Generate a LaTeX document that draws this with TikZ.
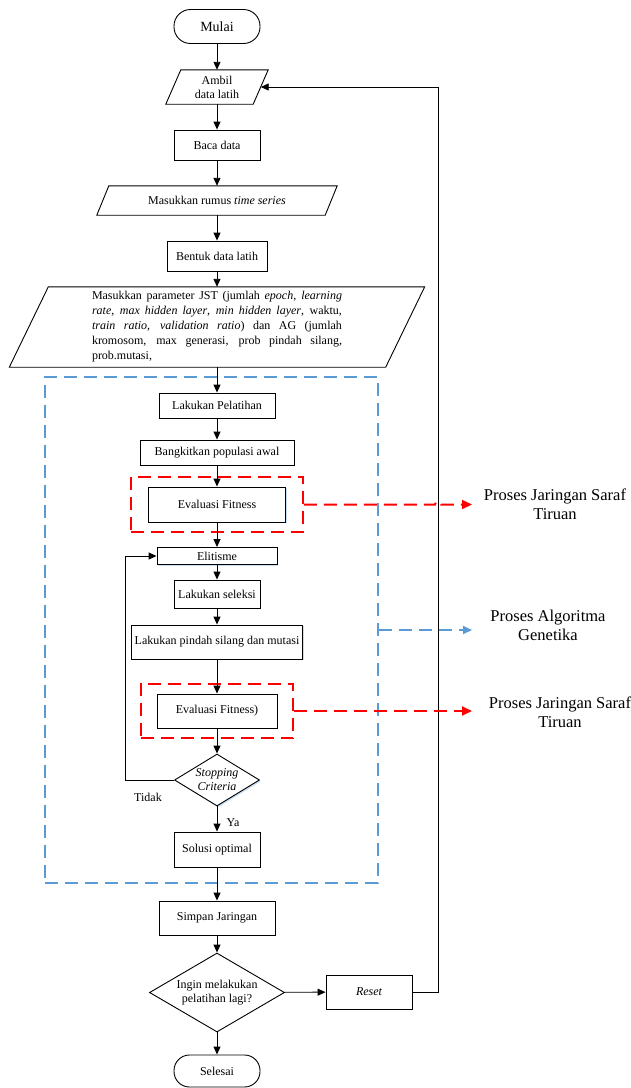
\documentclass[tikz,border=0pt]{standalone}
\usepackage{fontspec}
\setmainfont{Liberation Serif}
\usetikzlibrary{shapes.geometric,arrows.meta,fit,shadows}
\definecolor{agblue}{RGB}{91,155,213}
\definecolor{shadowblue}{RGB}{197,220,241}
\newcommand{\drawpara}[2]{\draw[line width=0.9pt] ([xshift=#2]#1.north east) -- ([xshift=#2]#1.north west) -- ([xshift=-#2]#1.south west) -- ([xshift=-#2]#1.south east) -- cycle;}
\begin{document}
\begin{tikzpicture}[x=1pt,y=-1pt,
  font=\fontsize{12}{14}\selectfont,
  box/.style={draw, fill=white, line width=0.9pt, inner sep=0pt, align=center},
  shad/.style={drop shadow={shadow xshift=1.2pt, shadow yshift=-1.4pt, fill=shadowblue, opacity=1}},
  term/.style={draw, line width=0.9pt, rounded corners=16.5pt, minimum width=86pt, minimum height=34pt, inner sep=0pt},
  para/.style={inner sep=0pt, align=center},
  decision/.style={diamond, draw, fill=white, line width=0.9pt, inner sep=0pt},
  arr/.style={line width=0.9pt, -{Triangle[length=8pt,width=7pt]}},
  reddash/.style={draw=red, line width=2pt, dash pattern=on 13pt off 7pt, -{Triangle[length=10pt,width=9pt]}},
  redbox/.style={draw=red, line width=2pt, dash pattern=on 13pt off 7pt, inner xsep=17pt, inner ysep=10pt},
  agbox/.style={draw=agblue, line width=2pt, dash pattern=on 13pt off 7pt, inner sep=0pt},
  bluedash/.style={draw=agblue, line width=2pt, dash pattern=on 13pt off 7pt, -{Triangle[length=9pt,width=8pt]}},
  lbl/.style={font=\fontsize{16.5}{19}\selectfont, align=center, inner sep=0pt}
]
\useasboundingbox (0,0) rectangle (630,1088);

% group box of the genetic algorithm
\node[agbox, minimum width=333pt, minimum height=506pt] (bb) at (211.5,630) {};

% main flow
\node[term, font=\fontsize{14}{16}\selectfont] (mulai) at (217,26.5) {Mulai};
\node[para, minimum width=87pt, minimum height=34pt] (ambil) at (217,87) {Ambil\\data latih};
\drawpara{ambil}{7.5pt}
\node[box, minimum width=86pt, minimum height=30pt] (baca) at (217,145) {Baca data};
\node[para, minimum width=228pt, minimum height=29pt] (rumus) at (217,200.5) {Masukkan rumus \textit{time series}};
\drawpara{rumus}{6pt}
\node[box, minimum width=100pt, minimum height=30pt] (bentuk) at (217,256) {Bentuk data latih};
\node[para, minimum width=376pt, minimum height=80pt] (param) at (217,327) {\parbox{250pt}{\fontsize{12}{15}\selectfont
Masukkan parameter JST (jumlah \textit{epoch}, \textit{learning}\linebreak
\textit{rate}, \textit{max hidden layer}, \textit{min hidden layer}, waktu,\linebreak
\textit{train ratio}, \textit{validation ratio}) dan AG (jumlah\linebreak
kromosom, max generasi, prob pindah silang,\linebreak
prob.mutasi,}};
\drawpara{param}{19.5pt}

\node[box, shad, minimum width=116pt, minimum height=25pt] (latih) at (217,405.5) {Lakukan Pelatihan};
\node[box, shad, minimum width=154pt, minimum height=25pt] (bangkit) at (217,452.5) {Bangkitkan populasi awal};
\node[box, shad, minimum width=137pt, minimum height=35pt] (eval1) at (217,504.5) {Evaluasi Fitness};
\node[box, shad, minimum width=120pt, minimum height=17pt] (elit) at (217,556) {Elitisme};
\node[box, shad, minimum width=86pt, minimum height=28pt] (seleksi) at (217,594) {Lakukan seleksi};
\node[box, shad, minimum width=171pt, minimum height=34pt] (silang) at (217,642) {Lakukan pindah silang dan mutasi};
\node[box, shad, minimum width=120pt, minimum height=34pt] (eval2) at (217,711) {Evaluasi Fitness)};
\node[decision, shad, minimum width=85pt, minimum height=52pt,
  label={[align=center, font=\fontsize{12}{14}\selectfont\itshape]center:Stopping\\Criteria}] (stop) at (217,780) {};
\node[box, shad, minimum width=86pt, minimum height=35pt] (solusi) at (217,849.5) {Solusi optimal};
\node[box, minimum width=116pt, minimum height=34pt] (simpan) at (217,918) {Simpan Jaringan};
\node[decision, minimum width=135pt, minimum height=79pt,
  label={[align=center, font=\fontsize{12}{14}\selectfont]center:Ingin melakukan\\pelatihan lagi?}] (ingin) at (217,992.5) {};
\node[box, minimum width=86pt, minimum height=34pt, font=\fontsize{12}{14}\selectfont\itshape] (reset) at (369,992) {Reset};
\node[term, minimum height=32pt, rounded corners=15.5pt] (selesai) at (217,1071) {Selesai};

% red group boxes
\node[redbox, fit=(eval1)] (rb1) {};
\node[redbox, fit=(eval2), inner xsep=16pt] (rb2) {};

% labels on the right
\node[lbl] (lbl1) at (555,504.5) {Proses Jaringan Saraf\\Tiruan};
\node[lbl] (lbl3) at (548,625) {Proses Algoritma\\Genetika};
\node[lbl] (lbl2) at (560,712) {Proses Jaringan Saraf\\Tiruan};
\node (tidak) at (148,797) {Tidak};
\node (ya) at (233,823) {Ya};

\coordinate (loop) at (438,0);
\coordinate (tip) at (472,0);
\coordinate (back) at (125,0);

% connectors
\draw[arr] (mulai) -- (ambil);
\draw[arr] (ambil) -- (baca);
\draw[arr] (baca) -- (rumus);
\draw[arr] (rumus) -- (bentuk);
\draw[arr] (bentuk) -- (param);
\draw[arr] (param) -- (latih);
\draw[arr] (latih) -- (bangkit);
\draw[arr] (bangkit) -- (eval1);
\draw[arr] (eval1) -- (elit);
\draw[arr] (elit) -- (seleksi);
\draw[arr] (seleksi) -- (silang);
\draw[arr] (silang) -- (eval2);
\draw[arr] (eval2) -- (stop);
\draw[arr] (stop) -- (solusi);
\draw[arr] (solusi) -- (simpan);
\draw[arr] (simpan) -- (ingin);
\draw[arr] (ingin) -- (selesai);
\draw[arr] (ingin) -- (reset);
\draw[arr] (stop.west) -- (stop.west -| back) |- (elit.west);
\draw[arr] (reset.east) -- (reset.east -| loop) |- (ambil.east);

% dashed pointers
\draw[reddash] (rb1.east) -- ([xshift=-3pt]rb1.east -| loop) arc[start angle=180, end angle=0, radius=3pt] -- (rb1.east -| tip);
\draw[bluedash] (bb.east) -- (bb.east -| tip);
\draw[reddash] (rb2.east) -- (rb2.east -| tip);
\end{tikzpicture}
\end{document}
